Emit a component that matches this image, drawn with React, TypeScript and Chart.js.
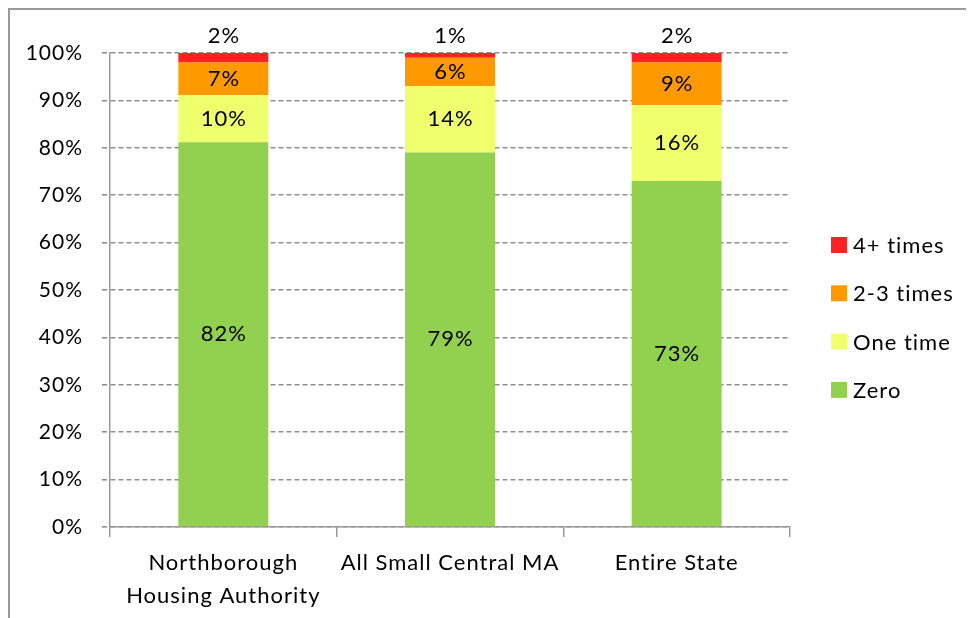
import React, { useEffect, useRef } from "react";
import { Chart, registerables } from "chart.js";

Chart.register(...registerables);

const categories: (string | string[])[] = [
  ["Northborough", "Housing Authority"],
  "All Small Central MA",
  "Entire State",
];
const seriesNames = ["Zero", "One time", "2-3 times", "4+ times"];
const zeroValues = [82, 79, 73];
const oneTimeValues = [10, 14, 16];
const twoThreeValues = [7, 6, 9];
const fourPlusValues = [2, 1, 2];
const seriesColors = ["#92D050", "#F0FF6C", "#FF9900", "#FF2222"];
const yTicks = [0, 10, 20, 30, 40, 50, 60, 70, 80, 90, 100];

const FONT = "Lato, 'Liberation Sans', sans-serif";

export default function App() {
  const ref = useRef<HTMLCanvasElement | null>(null);

  useEffect(() => {
    if (!ref.current) return;
    const raw = [zeroValues, oneTimeValues, twoThreeValues, fourPlusValues];
    const totals = categories.map((_, i) => raw.reduce((s, arr) => s + arr[i], 0));
    const datasets = raw.map((arr, k) => ({
      label: seriesNames[k],
      data: arr.map((v, i) => (v / totals[i]) * 100),
      rawValues: arr,
      backgroundColor: seriesColors[k],
      borderWidth: 0,
      categoryPercentage: 1,
      barPercentage: 0.397,
    }));

    const spacingPlugin = {
      id: "spacing",
      beforeDraw(chart: any) {
        (chart.ctx as any).letterSpacing = "1px";
      },
    };

    const labelPlugin = {
      id: "segLabels",
      afterDatasetsDraw(chart: any) {
        const ctx = chart.ctx;
        ctx.save();
        (ctx as any).letterSpacing = "1px";
        ctx.font = `22px ${FONT}`;
        ctx.fillStyle = "#000";
        ctx.textAlign = "center";
        ctx.textBaseline = "middle";
        const n = chart.data.datasets.length;
        chart.data.datasets.forEach((ds: any, k: number) => {
          const meta = chart.getDatasetMeta(k);
          meta.data.forEach((el: any, i: number) => {
            const txt = ds.rawValues[i] + "%";
            if (k === n - 1) {
              ctx.fillText(txt, el.x + 0.5, el.y - 17);
            } else {
              ctx.fillText(txt, el.x + 0.5, (el.y + el.base) / 2);
            }
          });
        });
        ctx.restore();
      },
    };

    const legendPlugin = {
      id: "customLegend",
      afterDraw(chart: any) {
        const ctx = chart.ctx;
        ctx.save();
        (ctx as any).letterSpacing = "1px";
        ctx.font = `22px ${FONT}`;
        ctx.textAlign = "left";
        ctx.textBaseline = "middle";
        const items = chart.data.datasets.slice().reverse();
        const x0 = 821;
        const y0 = 235;
        const step = 48.3;
        items.forEach((ds: any, j: number) => {
          const cy = y0 + j * step;
          ctx.fillStyle = ds.backgroundColor;
          ctx.fillRect(x0, cy - 8, 16, 16);
          ctx.fillStyle = "#000";
          ctx.fillText(ds.label, x0 + 22, cy + 1);
        });
        ctx.restore();
      },
    };

    const chart = new Chart(ref.current, {
      type: "bar",
      data: { labels: categories as any, datasets: datasets as any },
      options: {
        animation: false,
        responsive: false,
        maintainAspectRatio: false,
        layout: { padding: { top: 43, right: 184, bottom: 0, left: 0 } },
        plugins: {
          legend: { display: false },
          tooltip: { enabled: false },
        },
        scales: {
          x: {
            stacked: true,
            afterFit: (s: any) => {
              s.height = 91;
            },
            grid: {
              offset: true,
              drawOnChartArea: false,
              drawTicks: true,
              tickLength: 10,
              color: "#999",
              lineWidth: 1.5,
            },
            border: { display: true, color: "#999", width: 1.5 },
            ticks: {
              color: "#000",
              padding: 9,
              font: { family: FONT, size: 22, lineHeight: 1.52 },
            },
          },
          y: {
            stacked: true,
            min: 0,
            max: 100,
            afterFit: (s: any) => {
              s.width = 100;
            },
            afterBuildTicks: (s: any) => {
              s.ticks = yTicks.map((v) => ({ value: v }));
            },
            grid: {
              color: "#8e8e8e",
              lineWidth: 1.6,
              tickLength: 8,
              tickBorderDash: [5, 3],
              tickColor: "#8e8e8e",
            },
            border: { display: true, color: "#999", width: 1.5, dash: [5, 3] },
            ticks: {
              color: "#000",
              padding: 19,
              font: { family: FONT, size: 21 },
              callback: (v: any) => v + "%",
            },
          },
        },
      },
      plugins: [spacingPlugin, labelPlugin, legendPlugin],
    });
    return () => chart.destroy();
  }, []);

  return (
    <div
      style={{
        width: 966,
        height: 610,
        boxSizing: "border-box",
        borderTop: "2px solid #999",
        borderLeft: "2px solid #999",
        overflow: "hidden",
      }}
    >
      <canvas ref={ref} width={964} height={608} style={{ display: "block", width: 964, height: 608 }} />
    </div>
  );
}
